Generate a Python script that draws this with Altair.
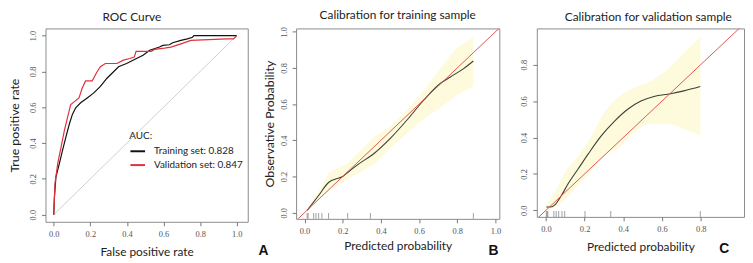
import altair as alt
import pandas as pd

# ---------------- data ----------------
roc_series = ["Training set: 0.828", "Validation set: 0.847"]
train_fpr = [0, 0.004, 0.012, 0.031, 0.048, 0.066, 0.085, 0.102, 0.12, 0.147, 0.183, 0.219,
             0.255, 0.291, 0.327, 0.354, 0.398, 0.452, 0.488, 0.524, 0.578, 0.596, 0.632,
             0.65, 0.695, 0.73, 0.758, 0.766, 1.0]
train_tpr = [0, 0.10, 0.21, 0.286, 0.359, 0.432, 0.505, 0.56, 0.597, 0.625, 0.652, 0.68,
             0.716, 0.762, 0.798, 0.826, 0.844, 0.872, 0.89, 0.918, 0.936, 0.945, 0.949,
             0.96, 0.973, 0.982, 0.991, 1.0, 1.0]
valid_fpr = [0, 0.007, 0.022, 0.04, 0.058, 0.075, 0.093, 0.111, 0.138, 0.156, 0.174, 0.21,
             0.237, 0.255, 0.282, 0.345, 0.381, 0.416, 0.44, 0.45, 0.533, 0.551, 0.605,
             0.64, 0.695, 0.749, 0.946, 0.982, 1.0]
valid_tpr = [0, 0.176, 0.286, 0.377, 0.469, 0.542, 0.615, 0.63, 0.652, 0.707, 0.747, 0.747,
             0.798, 0.826, 0.844, 0.844, 0.863, 0.872, 0.88, 0.912, 0.912, 0.923, 0.93,
             0.936, 0.954, 0.973, 0.982, 0.982, 1.0]

# calibration, training sample
calB_x = [0.014, 0.074, 0.126, 0.16, 0.2, 0.229, 0.281, 0.367, 0.453, 0.539, 0.626, 0.712,
          0.764, 0.833, 0.884]
calB_y = [0.013, 0.095, 0.167, 0.185, 0.2, 0.225, 0.267, 0.33, 0.415, 0.515, 0.624, 0.715,
          0.75, 0.796, 0.838]
bandB_x = [0.014, 0.074, 0.126, 0.229, 0.367, 0.453, 0.539, 0.626, 0.712, 0.798, 0.884]
bandB_lo = [0.005, 0.07, 0.12, 0.185, 0.27, 0.36, 0.44, 0.52, 0.58, 0.65, 0.70]
bandB_hi = [0.02, 0.12, 0.22, 0.276, 0.42, 0.48, 0.57, 0.676, 0.80, 0.913, 0.97]
rugB = [0.014, 0.019, 0.048, 0.06, 0.074, 0.091, 0.126, 0.226, 0.345, 0.884]

# calibration, validation sample
calC_x = [0.002, 0.024, 0.049, 0.083, 0.117, 0.168, 0.219, 0.287, 0.355, 0.423, 0.491,
          0.559, 0.644, 0.713, 0.798]
calC_y = [0.018, 0.018, 0.033, 0.087, 0.15, 0.23, 0.31, 0.41, 0.49, 0.555, 0.6, 0.625,
          0.64, 0.656, 0.68]
bandC_x = [0.002, 0.049, 0.1, 0.168, 0.236, 0.304, 0.372, 0.457, 0.543, 0.628, 0.713, 0.798]
bandC_lo = [0.005, 0.018, 0.06, 0.14, 0.22, 0.30, 0.34, 0.43, 0.475, 0.475, 0.448, 0.41]
bandC_hi = [0.03, 0.105, 0.21, 0.30, 0.41, 0.54, 0.62, 0.674, 0.71, 0.773, 0.864, 0.954]
rugC = [0.002, 0.006, 0.01, 0.041, 0.053, 0.066, 0.083, 0.097, 0.202, 0.335, 0.798]

ticks_full = [0, 0.2, 0.4, 0.6, 0.8, 1.0]
ticks_c = [0, 0.2, 0.4, 0.6, 0.8]

# ---------------- styling ----------------
SANS = "Lato"
SERIF = "Liberation Serif"
RED = "#e0555a"
CURVE = "#3b4139"
BAND = "#fdfbdc"


def xaxis(title, pad, values):
    return alt.Axis(title=title, values=values, format=".1f", tickSize=4, tickColor="#777",
                    labelFont=SERIF, labelFontSize=8.5, labelColor="#555", labelPadding=4,
                    labelFlush=False, labelOverlap=False, titleFont=SANS, titleFontSize=12,
                    titleFontWeight="normal", titleColor="#222", titlePadding=pad,
                    domain=False, grid=False)


def yaxis(title, pad, values):
    return alt.Axis(title=title, values=values, format=".1f", tickSize=4, tickColor="#777",
                    labelFont=SERIF, labelFontSize=8.5, labelColor="#555", labelPadding=4,
                    labelAngle=270, labelAlign="center", labelBaseline="bottom",
                    labelFlush=False, labelOverlap=False, labelBound=False,
                    titleFont=SANS, titleFontSize=12.5,
                    titleFontWeight="normal", titleColor="#222", titlePadding=pad,
                    domain=False, grid=False)


def ptitle(text, dx):
    return alt.TitleParams(text=text, font=SANS, fontSize=12, fontWeight="normal",
                           color="#222", anchor="middle", frame="group", dx=dx, offset=5)


# ---------------- panel A: ROC ----------------
WA, HA = 205, 196
xa = alt.Scale(domain=[-0.045, 1.06], nice=False, zero=False)
ya = alt.Scale(domain=[-0.04, 1.04], nice=False, zero=False)
axA_x = xaxis("False positive rate", 9, ticks_full)
axA_y = yaxis("True positive rate", 7, ticks_full)

roc_df = pd.concat([
    pd.DataFrame({"fpr": train_fpr, "tpr": train_tpr, "set": roc_series[0],
                  "i": range(len(train_fpr))}),
    pd.DataFrame({"fpr": valid_fpr, "tpr": valid_tpr, "set": roc_series[1],
                  "i": range(len(valid_fpr))}),
])
diag_df = pd.DataFrame({"x": [0, 1], "y": [0, 1]})

diagA = alt.Chart(diag_df).mark_line(color="#c4c4c4", strokeWidth=0.8).encode(
    x=alt.X("x:Q", scale=xa, axis=axA_x),
    y=alt.Y("y:Q", scale=ya, axis=axA_y),
)
rocA = alt.Chart(roc_df).mark_line(strokeWidth=1.2).encode(
    x=alt.X("fpr:Q", scale=xa, axis=axA_x),
    y=alt.Y("tpr:Q", scale=ya, axis=axA_y),
    order=alt.Order("i:Q"),
    color=alt.Color("set:N", scale=alt.Scale(domain=roc_series, range=["#111111", "#e2303c"]),
                    legend=alt.Legend(title="AUC:", orient="none", legendX=85, legendY=104,
                                      symbolType="stroke", symbolSize=220, symbolStrokeWidth=2,
                                      labelFont=SANS, labelFontSize=10, labelColor="#222",
                                      titleFont=SANS, titleFontSize=10, titleFontWeight="normal",
                                      titleColor="#222", rowPadding=-8, labelOffset=8,
                                      titlePadding=2)),
)
panelA = alt.layer(diagA, rocA).properties(width=WA, height=HA, title=ptitle("ROC Curve", -15))

# ---------------- panel B ----------------
WB, HB = 206, 193
xb = alt.Scale(domain=[-0.044, 1.02], nice=False, zero=False)
yb = alt.Scale(domain=[-0.034, 1.018], nice=False, zero=False)
axB_x = xaxis("Predicted probability", 6, ticks_full)
axB_y = yaxis("Observative Probability", 3, ticks_full)
bandB_df = pd.DataFrame({"x": bandB_x, "lo": bandB_lo, "hi": bandB_hi})
calB_df = pd.DataFrame({"x": calB_x, "y": calB_y})
rugB_df = pd.DataFrame({"x": rugB})
diagB_df = pd.DataFrame({"x": [-0.1, 1.1], "y": [-0.1, 1.1]})
labB_df = pd.DataFrame({"t": ["A", "B"], "px": [-33, 200]})

bandB = alt.Chart(bandB_df).mark_area(color=BAND, opacity=1).encode(
    x=alt.X("x:Q", scale=xb, axis=axB_x),
    y=alt.Y("lo:Q", scale=yb, axis=axB_y),
    y2="hi:Q",
)
curveB = alt.Chart(calB_df).mark_line(color=CURVE, strokeWidth=1.1, interpolate="monotone").encode(
    x=alt.X("x:Q", scale=xb, axis=axB_x), y=alt.Y("y:Q", scale=yb, axis=axB_y))
diagB = alt.Chart(diagB_df).mark_line(color=RED, strokeWidth=1, clip=True).encode(
    x=alt.X("x:Q", scale=xb, axis=axB_x), y=alt.Y("y:Q", scale=yb, axis=axB_y))
rugBm = alt.Chart(rugB_df).mark_tick(orient="vertical", size=6, thickness=1, color="#777").encode(
    x=alt.X("x:Q", scale=xb, axis=axB_x), y=alt.value(HB - 3))
labB = alt.Chart(labB_df).mark_text(font="Liberation Sans", fontSize=14, fontWeight="bold",
                                    color="#111", align="center", baseline="middle").encode(
    x=alt.X("px:Q", scale=None), y=alt.value(226), text="t:N")
panelB = alt.layer(bandB, curveB, diagB, rugBm, labB).properties(
    width=WB, height=HB, title=ptitle("Calibration for training sample", 0))

# ---------------- panel C ----------------
WC, HC = 210, 191
xc = alt.Scale(domain=[-0.047, 1.024], nice=False, zero=False)
yc = alt.Scale(domain=[-0.036, 0.999], nice=False, zero=False)
axC_x = xaxis("Predicted probability", 9, ticks_c)
axC_y = yaxis(None, 3, ticks_c)
bandC_df = pd.DataFrame({"x": bandC_x, "lo": bandC_lo, "hi": bandC_hi})
calC_df = pd.DataFrame({"x": calC_x, "y": calC_y})
rugC_df = pd.DataFrame({"x": rugC})
labC_df = pd.DataFrame({"t": ["C"], "px": [190]})

bandC = alt.Chart(bandC_df).mark_area(color=BAND, opacity=1, interpolate="monotone").encode(
    x=alt.X("x:Q", scale=xc, axis=axC_x),
    y=alt.Y("lo:Q", scale=yc, axis=axC_y),
    y2="hi:Q",
)
curveC = alt.Chart(calC_df).mark_line(color=CURVE, strokeWidth=1.1, interpolate="monotone").encode(
    x=alt.X("x:Q", scale=xc, axis=axC_x), y=alt.Y("y:Q", scale=yc, axis=axC_y))
diagC = alt.Chart(diagB_df).mark_line(color=RED, strokeWidth=1, clip=True).encode(
    x=alt.X("x:Q", scale=xc, axis=axC_x), y=alt.Y("y:Q", scale=yc, axis=axC_y))
rugCm = alt.Chart(rugC_df).mark_tick(orient="vertical", size=6, thickness=1, color="#777").encode(
    x=alt.X("x:Q", scale=xc, axis=axC_x), y=alt.value(HC - 3))
labC = alt.Chart(labC_df).mark_text(font="Liberation Sans", fontSize=14, fontWeight="bold",
                                    color="#111", align="center", baseline="middle").encode(
    x=alt.X("px:Q", scale=None), y=alt.value(224), text="t:N")
panelC = alt.layer(bandC, curveC, diagC, rugCm, labC).properties(
    width=WC, height=HC, title=ptitle("Calibration for validation sample", 8))

chart = alt.hconcat(
    alt.hconcat(panelA, panelB, spacing=9).resolve_scale(x="independent", y="independent", color="independent"),
    panelC, spacing=18,
).resolve_scale(x="independent", y="independent").configure_view(
    stroke="#8a8a8a", strokeWidth=1
).configure_axis(labelOverlap=False).properties(
    padding={"left": 0, "top": -2, "right": 0, "bottom": 0}, background="white")

chart.save("out.html", embed_options={"renderer": "svg", "actions": False})
